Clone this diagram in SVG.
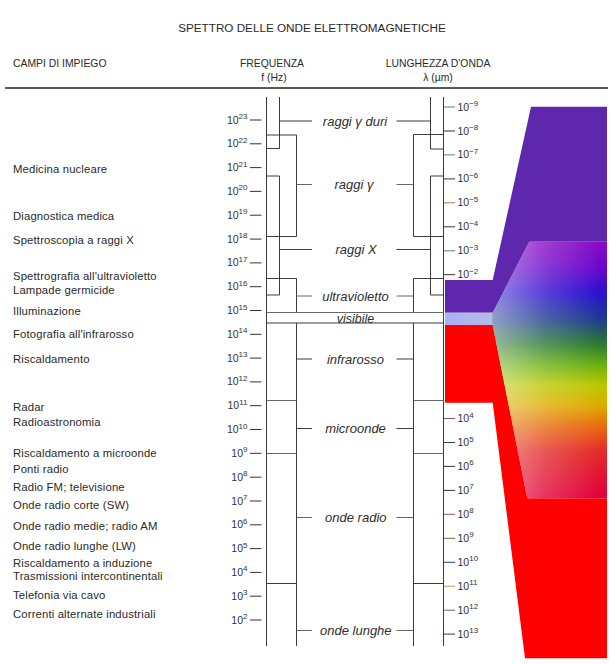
<svg xmlns="http://www.w3.org/2000/svg" width="612" height="664" viewBox="0 0 612 664">
<style>
.t{font-family:"Liberation Sans",Arial,Helvetica,sans-serif;fill:#2a2a2a}
.hd{font-size:10.4px}
.ttl{font-size:11.7px}
.lab{font-size:11.3px;letter-spacing:0.15px}
.num{font-size:10.5px;fill:#333}
.sup{font-size:8px}
.band{font-size:13px;font-style:italic;fill:#2e2e2e;text-anchor:middle}
.ln{stroke:#3a3a3a;stroke-width:1;fill:none}
.lt{stroke:#666;stroke-width:1;fill:none}
.tk{stroke:#333;stroke-width:1}
</style>
<defs>
<linearGradient id="rainbow" gradientUnits="userSpaceOnUse" x1="0" y1="242" x2="0" y2="498">
<stop offset="0" stop-color="#8a0ac4"/>
<stop offset="0.1" stop-color="#6a08cc"/>
<stop offset="0.2" stop-color="#2a10d0"/>
<stop offset="0.3" stop-color="#1c3c90"/>
<stop offset="0.4" stop-color="#2c7a30"/>
<stop offset="0.48" stop-color="#6ab010"/>
<stop offset="0.56" stop-color="#bcc800"/>
<stop offset="0.64" stop-color="#e0aa00"/>
<stop offset="0.72" stop-color="#e86a10"/>
<stop offset="0.82" stop-color="#e42a28"/>
<stop offset="1" stop-color="#e0003c"/>
</linearGradient>
<linearGradient id="wash" gradientUnits="userSpaceOnUse" x1="492" y1="0" x2="600" y2="0">
<stop offset="0" stop-color="#ffffff" stop-opacity="0.5"/>
<stop offset="0.5" stop-color="#ffffff" stop-opacity="0.2"/>
<stop offset="1" stop-color="#ffffff" stop-opacity="0"/>
</linearGradient>
<linearGradient id="vis" x1="0" y1="0" x2="1" y2="0">
<stop offset="0" stop-color="#a9b0f4"/>
<stop offset="1" stop-color="#b4bce8"/>
</linearGradient>
</defs>
<rect width="612" height="664" fill="#ffffff"/>

<g id="title">
<text class="t ttl" x="312" y="32" text-anchor="middle">SPETTRO DELLE ONDE ELETTROMAGNETICHE</text>
</g>
<g id="headers">
<text class="t hd" x="13" y="67">CAMPI DI IMPIEGO</text>
<text class="t hd" x="272" y="67" text-anchor="middle">FREQUENZA</text>
<text class="t hd" x="274" y="80.5" text-anchor="middle">f (Hz)</text>
<text class="t hd" x="438" y="67" text-anchor="middle">LUNGHEZZA D'ONDA</text>
<text class="t hd" x="438" y="80.5" text-anchor="middle">λ (µm)</text>
<line x1="5" y1="88" x2="608" y2="88" stroke="#5a5a5a" stroke-width="2"/>
</g>

<g id="spectrum">
<polygon fill="#5f27ae" points="531,106.7 607,106.7 607,241.7 529.3,241.7 492.7,312.7 445,312.7 445,280 492.7,280"/>
<rect x="445" y="312.7" width="48" height="12.3" fill="url(#vis)"/>
<polygon fill="#ff0000" points="445,325 492.7,325 527.3,498.3 607,498.3 607,658.3 525,658.3 492.7,402.7 445,402.7"/>
<polygon fill="url(#rainbow)" points="529.3,241.7 607,241.7 607,498.3 527.3,498.3 492.7,325 492.7,312.7"/>
<polygon fill="url(#wash)" points="529.3,241.7 607,241.7 607,498.3 527.3,498.3 492.7,325 492.7,312.7"/>
</g>

<g id="freq-axis">
<g class="tk">
<line x1="250" y1="120" x2="261.5" y2="120"/>
<line x1="250" y1="143.8" x2="261.5" y2="143.8"/>
<line x1="250" y1="167.6" x2="261.5" y2="167.6"/>
<line x1="250" y1="191.4" x2="261.5" y2="191.4"/>
<line x1="250" y1="215.2" x2="261.5" y2="215.2"/>
<line x1="250" y1="239.1" x2="261.5" y2="239.1"/>
<line x1="250" y1="262.9" x2="261.5" y2="262.9"/>
<line x1="250" y1="286.7" x2="261.5" y2="286.7"/>
<line x1="250" y1="310.5" x2="261.5" y2="310.5"/>
<line x1="250" y1="334.3" x2="261.5" y2="334.3"/>
<line x1="250" y1="358.1" x2="261.5" y2="358.1"/>
<line x1="250" y1="381.9" x2="261.5" y2="381.9"/>
<line x1="250" y1="405.7" x2="261.5" y2="405.7"/>
<line x1="250" y1="429.5" x2="261.5" y2="429.5"/>
<line x1="250" y1="453.3" x2="261.5" y2="453.3"/>
<line x1="250" y1="477.2" x2="261.5" y2="477.2"/>
<line x1="250" y1="501" x2="261.5" y2="501"/>
<line x1="250" y1="524.8" x2="261.5" y2="524.8"/>
<line x1="250" y1="548.6" x2="261.5" y2="548.6"/>
<line x1="250" y1="572.4" x2="261.5" y2="572.4"/>
<line x1="250" y1="596.2" x2="261.5" y2="596.2"/>
<line x1="250" y1="620" x2="261.5" y2="620"/>
</g>
<g class="t num" text-anchor="end">
<text x="247.5" y="123.5">10<tspan class="sup" dy="-4.5">23</tspan></text>
<text x="247.5" y="147.3">10<tspan class="sup" dy="-4.5">22</tspan></text>
<text x="247.5" y="171.1">10<tspan class="sup" dy="-4.5">21</tspan></text>
<text x="247.5" y="194.9">10<tspan class="sup" dy="-4.5">20</tspan></text>
<text x="247.5" y="218.7">10<tspan class="sup" dy="-4.5">19</tspan></text>
<text x="247.5" y="242.6">10<tspan class="sup" dy="-4.5">18</tspan></text>
<text x="247.5" y="266.4">10<tspan class="sup" dy="-4.5">17</tspan></text>
<text x="247.5" y="290.2">10<tspan class="sup" dy="-4.5">16</tspan></text>
<text x="247.5" y="314">10<tspan class="sup" dy="-4.5">15</tspan></text>
<text x="247.5" y="337.8">10<tspan class="sup" dy="-4.5">14</tspan></text>
<text x="247.5" y="361.6">10<tspan class="sup" dy="-4.5">13</tspan></text>
<text x="247.5" y="385.4">10<tspan class="sup" dy="-4.5">12</tspan></text>
<text x="247.5" y="409.2">10<tspan class="sup" dy="-4.5">11</tspan></text>
<text x="247.5" y="433">10<tspan class="sup" dy="-4.5">10</tspan></text>
<text x="247.5" y="456.8">10<tspan class="sup" dy="-4.5">9</tspan></text>
<text x="247.5" y="480.7">10<tspan class="sup" dy="-4.5">8</tspan></text>
<text x="247.5" y="504.5">10<tspan class="sup" dy="-4.5">7</tspan></text>
<text x="247.5" y="528.3">10<tspan class="sup" dy="-4.5">6</tspan></text>
<text x="247.5" y="552.1">10<tspan class="sup" dy="-4.5">5</tspan></text>
<text x="247.5" y="575.9">10<tspan class="sup" dy="-4.5">4</tspan></text>
<text x="247.5" y="599.7">10<tspan class="sup" dy="-4.5">3</tspan></text>
<text x="247.5" y="623.5">10<tspan class="sup" dy="-4.5">2</tspan></text>
</g>
</g>

<g id="wl-axis">
<g class="tk" stroke="#444">
<line x1="443.5" y1="107" x2="455" y2="107" stroke="#4a7fa8"/>
<line x1="443.5" y1="131" x2="455" y2="131"/>
<line x1="443.5" y1="154.9" x2="455" y2="154.9" stroke="#4a7fa8"/>
<line x1="443.5" y1="178.9" x2="455" y2="178.9" stroke="#3a2a5a"/>
<line x1="443.5" y1="202.8" x2="455" y2="202.8" stroke="#b07a40"/>
<line x1="443.5" y1="226.8" x2="455" y2="226.8"/>
<line x1="443.5" y1="250.8" x2="455" y2="250.8" stroke="#4a7fa8"/>
<line x1="443.5" y1="274.7" x2="455" y2="274.7"/>
<line x1="443.5" y1="418.5" x2="455" y2="418.5" stroke="#8a5a50"/>
<line x1="443.5" y1="442.5" x2="455" y2="442.5" stroke="#2a3a7a"/>
<line x1="443.5" y1="466.4" x2="455" y2="466.4"/>
<line x1="443.5" y1="490.4" x2="455" y2="490.4"/>
<line x1="443.5" y1="514.3" x2="455" y2="514.3" stroke="#8a5a50"/>
<line x1="443.5" y1="538.3" x2="455" y2="538.3" stroke="#6a6a3a"/>
<line x1="443.5" y1="562.3" x2="455" y2="562.3" stroke="#2a3a7a"/>
<line x1="443.5" y1="586.2" x2="455" y2="586.2" stroke="#a8a840"/>
<line x1="443.5" y1="610.2" x2="455" y2="610.2" stroke="#6a6a3a"/>
<line x1="443.5" y1="634.1" x2="455" y2="634.1" stroke="#2a3a7a"/>
</g>
<g class="t num">
<text x="457.5" y="110.5">10<tspan class="sup" dy="-4.5">−9</tspan></text>
<text x="457.5" y="134.5">10<tspan class="sup" dy="-4.5">−8</tspan></text>
<text x="457.5" y="158.4">10<tspan class="sup" dy="-4.5">−7</tspan></text>
<text x="457.5" y="182.4">10<tspan class="sup" dy="-4.5">−6</tspan></text>
<text x="457.5" y="206.3">10<tspan class="sup" dy="-4.5">−5</tspan></text>
<text x="457.5" y="230.3">10<tspan class="sup" dy="-4.5">−4</tspan></text>
<text x="457.5" y="254.3">10<tspan class="sup" dy="-4.5">−3</tspan></text>
<text x="457.5" y="278.2">10<tspan class="sup" dy="-4.5">−2</tspan></text>
<text x="457.5" y="422">10<tspan class="sup" dy="-4.5">4</tspan></text>
<text x="457.5" y="446">10<tspan class="sup" dy="-4.5">5</tspan></text>
<text x="457.5" y="469.9">10<tspan class="sup" dy="-4.5">6</tspan></text>
<text x="457.5" y="493.9">10<tspan class="sup" dy="-4.5">7</tspan></text>
<text x="457.5" y="517.8">10<tspan class="sup" dy="-4.5">8</tspan></text>
<text x="457.5" y="541.8">10<tspan class="sup" dy="-4.5">9</tspan></text>
<text x="457.5" y="565.8">10<tspan class="sup" dy="-4.5">10</tspan></text>
<text x="457.5" y="589.7">10<tspan class="sup" dy="-4.5">11</tspan></text>
<text x="457.5" y="613.7">10<tspan class="sup" dy="-4.5">12</tspan></text>
<text x="457.5" y="637.6">10<tspan class="sup" dy="-4.5">13</tspan></text>
</g>
</g>

<g id="applications" class="t lab">
<text x="13" y="172.5">Medicina nucleare</text>
<text x="13" y="220">Diagnostica medica</text>
<text x="13" y="243.5">Spettroscopia a raggi X</text>
<text x="13" y="279.5">Spettrografia all'ultravioletto</text>
<text x="13" y="293.5">Lampade germicide</text>
<text x="13" y="315">Illuminazione</text>
<text x="13" y="338">Fotografia all'infrarosso</text>
<text x="13" y="363">Riscaldamento</text>
<text x="13" y="410.5">Radar</text>
<text x="13" y="426">Radioastronomia</text>
<text x="13" y="456.5">Riscaldamento a microonde</text>
<text x="13" y="472.5">Ponti radio</text>
<text x="13" y="491">Radio FM; televisione</text>
<text x="13" y="508.5">Onde radio corte (SW)</text>
<text x="13" y="530">Onde radio medie; radio AM</text>
<text x="13" y="550">Onde radio lunghe (LW)</text>
<text x="13" y="566.5">Riscaldamento a induzione</text>
<text x="13" y="579.5">Trasmissioni intercontinentali</text>
<text x="13" y="599">Telefonia via cavo</text>
<text x="13" y="617.5">Correnti alternate industriali</text>
</g>

<g id="band-gamma-duri"><text class="t band" x="355" y="125.5">raggi γ duri</text></g>
<g id="band-gamma"><text class="t band" x="354" y="188.5">raggi γ</text></g>
<g id="band-x"><text class="t band" x="356" y="253.5">raggi X</text></g>
<g id="band-uv"><text class="t band" x="355.5" y="300.5">ultravioletto</text></g>
<g id="band-visibile"><text class="t band" x="355.5" y="322.5" style="font-size:12.5px">visibile</text></g>
<g id="band-ir"><text class="t band" x="355.5" y="363.5">infrarosso</text></g>
<g id="band-micro"><text class="t band" x="355.5" y="432.8">microonde</text></g>
<g id="band-radio"><text class="t band" x="355.8" y="522.2">onde radio</text></g>
<g id="band-lunghe"><text class="t band" x="355.8" y="635.2">onde lunghe</text></g>

<g id="connectors">
<line class="ln" x1="266.5" y1="97" x2="266.5" y2="646"/>
<line class="ln" x1="443.5" y1="97" x2="443.5" y2="646"/>
<polyline class="ln" points="279.5,97 279.5,148.5 266.5,148.5"/>
<polyline class="ln" points="266.5,135 296.5,135 296.5,236.5 266.5,236.5"/>
<polyline class="ln" points="266.5,176 279.5,176 279.5,295 266.5,295"/>
<polyline class="ln" points="266.5,278.5 296.5,278.5 296.5,312.5"/>
<line class="ln" x1="296.5" y1="323" x2="296.5" y2="646"/>
<line class="lt" x1="266.5" y1="400.5" x2="296.5" y2="400.5"/>
<line class="lt" x1="266.5" y1="453.5" x2="296.5" y2="453.5"/>
<line class="ln" x1="266.5" y1="583.5" x2="296.5" y2="583.5"/>
<polyline class="ln" points="430.5,97 430.5,149 443.5,149"/>
<polyline class="ln" points="443.5,134.5 413.5,134.5 413.5,236.5 443.5,236.5"/>
<polyline class="ln" points="443.5,176 430.5,176 430.5,295 443.5,295"/>
<polyline class="ln" points="443.5,278.5 413.5,278.5 413.5,312.5"/>
<line class="ln" x1="413.5" y1="323" x2="413.5" y2="646"/>
<line class="lt" x1="413.5" y1="400.5" x2="443.5" y2="400.5"/>
<line class="lt" x1="413.5" y1="453.5" x2="443.5" y2="453.5"/>
<line class="ln" x1="413.5" y1="583.5" x2="443.5" y2="583.5"/>
<line class="lt" x1="266.5" y1="312.5" x2="444" y2="312.5"/>
<line class="ln" x1="266.5" y1="323" x2="444" y2="323"/>
<line class="ln" x1="279.5" y1="121" x2="312" y2="121"/>
<line class="ln" x1="396.5" y1="121" x2="430.5" y2="121"/>
<line class="lt" x1="296.5" y1="184.5" x2="312" y2="184.5"/>
<line class="lt" x1="396.5" y1="184.5" x2="413.5" y2="184.5"/>
<line class="ln" x1="279.5" y1="249.5" x2="312" y2="249.5"/>
<line class="ln" x1="396.5" y1="249.5" x2="430.5" y2="249.5"/>
<line class="lt" x1="296.5" y1="296" x2="312" y2="296"/>
<line class="lt" x1="396.5" y1="296" x2="413.5" y2="296"/>
<line class="ln" x1="296.5" y1="359" x2="312" y2="359"/>
<line class="ln" x1="396.5" y1="359" x2="413.5" y2="359"/>
<line class="ln" x1="296.5" y1="428.5" x2="312" y2="428.5"/>
<line class="ln" x1="396.5" y1="428.5" x2="413.5" y2="428.5"/>
<line class="lt" x1="296.5" y1="517.5" x2="312" y2="517.5"/>
<line class="lt" x1="396.5" y1="517.5" x2="413.5" y2="517.5"/>
<line class="lt" x1="296.5" y1="630.5" x2="312" y2="630.5"/>
<line class="lt" x1="396.5" y1="630.5" x2="413.5" y2="630.5"/>
</g>
</svg>
